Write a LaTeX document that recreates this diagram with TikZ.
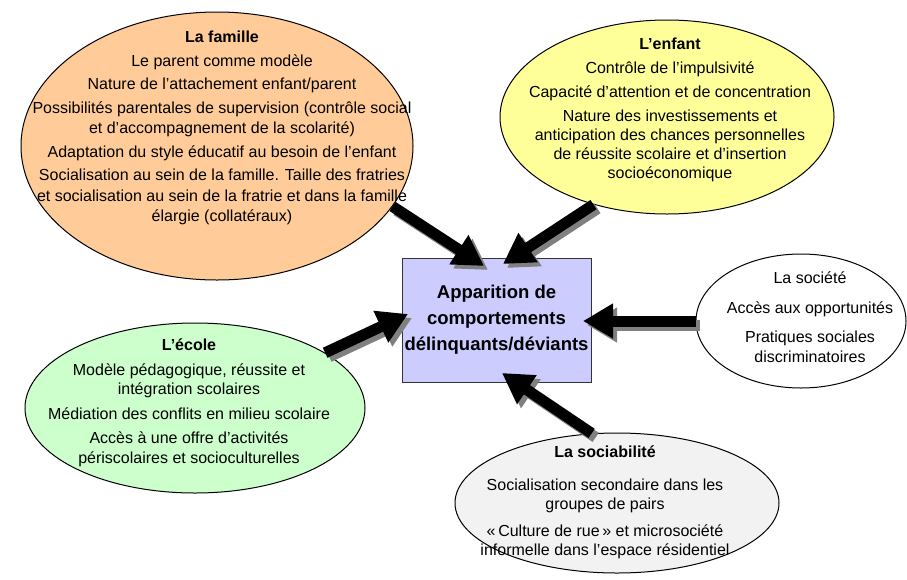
\documentclass[tikz,border=0pt]{standalone}
\usepackage{fontspec}
\setmainfont{Liberation Sans}
\usetikzlibrary{arrows.meta,shapes.geometric,calc}
\definecolor{famfill}{HTML}{FFCC99}
\definecolor{enffill}{HTML}{FFFF99}
\definecolor{ecofill}{HTML}{CCFFCC}
\definecolor{sabfill}{HTML}{F2F2F2}
\definecolor{boxfill}{HTML}{CCCCFF}
\definecolor{shadowgray}{HTML}{808080}
\begin{document}
\begin{tikzpicture}[x=1pt,y=-1pt,
  oval/.style={ellipse, draw=black, line width=1pt, inner sep=0pt},
  txt/.style={align=center, inner sep=0pt},
  blockarrow/.style={line width=11pt, -{Triangle[length=30pt,width=33pt]}},
  shadowarrow/.style={blockarrow, draw=shadowgray, fill=shadowgray},
  mainarrow/.style={blockarrow, draw=black, fill=black},
  centrebox/.style={draw=black!80, line width=1pt, fill=boxfill, minimum width=189pt, minimum height=124pt, inner sep=0pt, align=center, font=\fontsize{18.5}{26}\selectfont\bfseries}
  ]
\useasboundingbox (0,0) rectangle (907,579);
% ellipses
\node[oval, fill=famfill, minimum width=392pt, minimum height=268pt] (fam) at (217,146) {};
\node[oval, fill=enffill, minimum width=334pt, minimum height=194pt] (enf) at (667,117) {};
\node[oval, fill=white, minimum width=210pt, minimum height=134pt] (soc) at (801,321) {};
\node[oval, fill=ecofill, minimum width=340pt, minimum height=170pt] (eco) at (195,408) {};
\node[oval, fill=sabfill, minimum width=324pt, minimum height=140pt] (sab) at (617,503) {};
% texts
\node[txt, font=\fontsize{16}{20.5}\selectfont] (famt) at (222,128) {\textbf{La famille}\\[3pt]
Le parent comme modèle\\[3pt]
Nature de l’attachement enfant/parent\\[3pt]
Possibilités parentales de supervision (contrôle social\\
et d’accompagnement de la scolarité)\\[3pt]
Adaptation du style éducatif au besoin de l’enfant\\[3pt]
Socialisation au sein de la famille. Taille des fratries\\
et socialisation au sein de la fratrie et dans la famille\\
élargie (collatéraux)};
\node[txt, font=\fontsize{16}{19}\selectfont] (enft) at (670,110) {\textbf{L’enfant}\\[5pt]
Contrôle de l’impulsivité\\[5pt]
Capacité d’attention et de concentration\\[5pt]
Nature des investissements et\\
anticipation des chances personnelles\\
de réussite scolaire et d’insertion\\
socioéconomique};
\node[txt, font=\fontsize{16}{19.5}\selectfont] (soct) at (810,317) {La société\\[10pt]
Accès aux opportunités\\[10pt]
Pratiques sociales\\
discriminatoires};
\node[txt, font=\fontsize{16}{19.5}\selectfont] (ecot) at (189,403) {\textbf{L’école}\\[5pt]
Modèle pédagogique, réussite et\\
intégration scolaires\\[5pt]
Médiation des conflits en milieu scolaire\\[5pt]
Accès à une offre d’activités\\
périscolaires et socioculturelles};
\node[txt, font=\fontsize{16}{18.5}\selectfont] (sabt) at (605,502) {\textbf{La sociabilité}\\[15pt]
Socialisation secondaire dans les\\
groupes de pairs\\[9pt]
«\,Culture de rue\,» et microsociété\\
informelle dans l’espace résidentiel};
% centre box
\node[centrebox] (box) at (496.5,320) {Apparition de\\comportements\\délinquants/déviants};
% arrow tips
\coordinate (t1) at (484,266);
\coordinate (t2) at (503,264);
\coordinate (t3) at (408,314);
\coordinate (t4) at (583,321);
\coordinate (t5) at (502,373);
% shadows
\draw[shadowarrow] ([shift={(4,4)}]fam.-19) -- ([shift={(4,4)}]t1);
\draw[shadowarrow] ([shift={(4,4)}]enf.-130) -- ([shift={(4,4)}]t2);
\draw[shadowarrow] ([shift={(4,4)}]eco.23) -- ([shift={(4,4)}]t3);
\draw[shadowarrow] ([shift={(4,4)}]soc.west) -- ([shift={(4,4)}]t4);
\draw[shadowarrow] ([shift={(4,4)}]sab.110) -- ([shift={(4,4)}]t5);
% arrows
\draw[mainarrow] (fam.-19) -- (t1);
\draw[mainarrow] (enf.-130) -- (t2);
\draw[mainarrow] (eco.23) -- (t3);
\draw[mainarrow] (soc.west) -- (t4);
\draw[mainarrow] (sab.110) -- (t5);
\end{tikzpicture}
\end{document}
